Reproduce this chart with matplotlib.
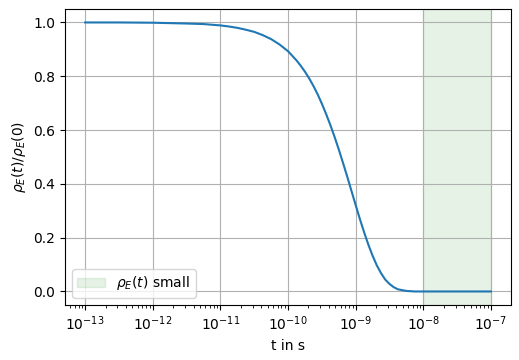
import numpy as np
import matplotlib
matplotlib.use("Agg")
import matplotlib.pyplot as plt

# time points (log10 of seconds) and the normalised decay
log_t = [-13, -12.5, -12, -11.5, -11.25, -11, -10.875, -10.75, -10.625, -10.5,
         -10.375, -10.25, -10.125, -10, -9.875, -9.8125, -9.75, -9.6875, -9.625,
         -9.5625, -9.5, -9.4375, -9.375, -9.3125, -9.25, -9.1875, -9.125, -9.0625,
         -9, -8.9375, -8.875, -8.8125, -8.75, -8.6875, -8.625, -8.5625, -8.5,
         -8.4375, -8.375, -8.25, -8.125, -8, -7.5, -7]
rho = [1.000, 1.000, 0.999, 0.996, 0.994, 0.989, 0.985, 0.980, 0.973, 0.965,
       0.953, 0.938, 0.918, 0.893, 0.859, 0.839, 0.817, 0.792, 0.764,
       0.733, 0.698, 0.660, 0.619, 0.575, 0.528, 0.478, 0.427, 0.374,
       0.321, 0.269, 0.220, 0.174, 0.133, 0.097, 0.068, 0.044, 0.028,
       0.016, 0.008, 0.002, 0.000, 0.000, 0.000, 0.000]

# region where rho_E(t) is small
small_start = 1e-8
small_end = 1e-7

t = 10.0 ** np.array(log_t)

fig, ax = plt.subplots(figsize=(5.19, 3.6), dpi=100)
ax.plot(t, rho)
ax.axvspan(small_start, small_end, color="green", alpha=0.1, label=r"$\rho_E(t)$ small")
ax.set_xscale("log")
ax.set_xlabel("t in s")
ax.set_ylabel(r"$\rho_E(t)/\rho_E(0)$")
ax.grid(True)
ax.legend(loc="lower left")

fig.subplots_adjust(left=0.125, right=0.985, top=0.975, bottom=0.153)
fig.savefig("out.png")
